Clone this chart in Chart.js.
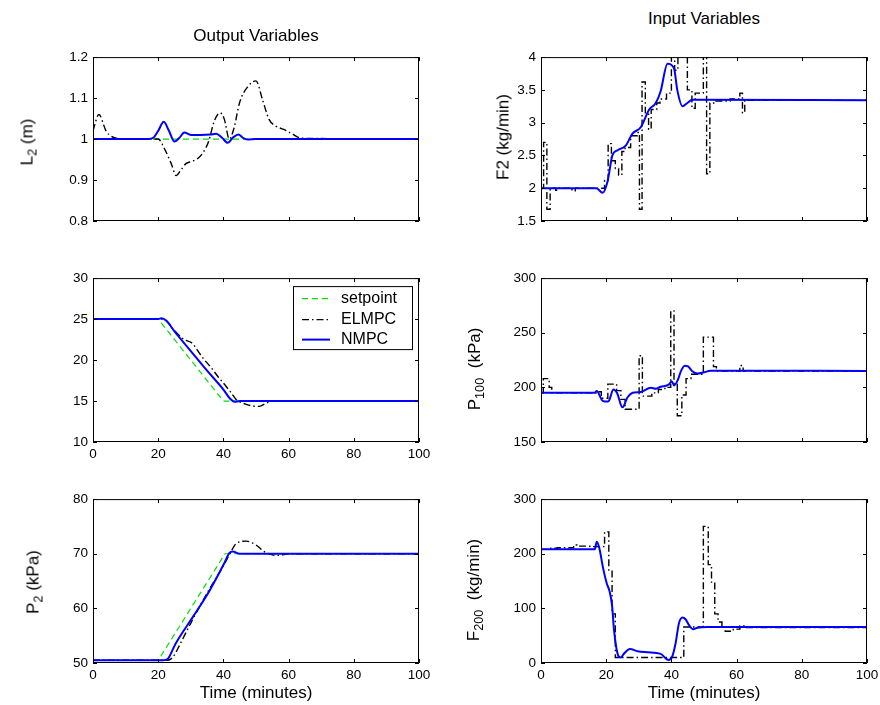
<!DOCTYPE html>
<html>
<head>
<meta charset="utf-8">
<script src="https://cdn.jsdelivr.net/npm/chart.js@4.4.1/dist/chart.umd.min.js"></script>
<style>
  html, body { margin: 0; padding: 0; background: #fff; }
  #fig { position: relative; width: 880px; height: 705px; background: #fff; overflow: hidden;
         font-family: "Liberation Sans", Arial, Helvetica, sans-serif; color: #000; }
  #fig canvas { position: absolute; }
  .lbl { position: absolute; white-space: nowrap; font-size: 17px; line-height: 1; transform: translate(-50%, -50%); }
  .rot { transform: translate(-50%, -50%) rotate(-90deg); }
  .lbl sub { font-size: 75%; position: relative; top: 0.35em; vertical-align: baseline; line-height: 0; }
</style>
</head>
<body>
<div id="fig">
  <canvas id="cL2"></canvas>
  <canvas id="cF2"></canvas>
  <canvas id="cX2"></canvas>
  <canvas id="cP100"></canvas>
  <canvas id="cP2"></canvas>
  <canvas id="cF200"></canvas>

  <div class="lbl" style="left:256px; top:35px;">Output Variables</div>
  <div class="lbl" style="left:704px; top:18px;">Input Variables</div>
  <div class="lbl" style="left:256px; top:692px;">Time (minutes)</div>
  <div class="lbl" style="left:704px; top:692px;">Time (minutes)</div>

  <div class="lbl rot" style="left:27px; top:142px;">L<sub>2</sub> (m)</div>
  <div class="lbl rot" style="left:503px; top:137px;">F2 (kg/min)</div>
  <div class="lbl rot" style="left:474px; top:369px;">P<sub>100</sub>&nbsp;&nbsp;(kPa)</div>
  <div class="lbl rot" style="left:33px; top:582px;">P<sub>2</sub> (kPa)</div>
  <div class="lbl rot" style="left:473px; top:590px;">F<sub>200</sub>&nbsp;&nbsp;(kg/min)</div>
</div>

<script>
// ---- Time axis ticks (minutes) ----
const timeTicks = [0, 20, 40, 60, 80, 100];

// ---- L2 : separator level (m) ----
const L2_sp_t    = [0, 100];
const L2_sp      = [1.0, 1.0];
const L2_nmpc_t  = [0, 17, 18.5, 20, 21.7, 23.3, 25, 26.5, 28, 30, 33, 36, 37.8, 39.5, 41.3, 43, 44.6, 46, 47.4, 50, 100];
const L2_nmpc    = [1.0, 1.0, 1.003, 1.02, 1.042, 1.02, 0.994, 1.003, 1.016, 1.01, 1.01, 1.011, 1.013, 1.004, 0.991, 1.004, 1.011, 1.003, 0.999, 1.0, 1.0];
const L2_elmpc_t = [0, 1.8, 4, 6, 10, 18, 20, 22, 24, 25.5, 27, 28.5, 30.5, 32.5, 34, 35.5, 37.2, 39, 40.3, 41.8, 43.2, 45, 47.5, 50, 52, 54, 56, 59, 61, 64, 100];
const L2_elmpc   = [1.02, 1.06, 1.02, 1.005, 1.0, 1.0, 1.0, 0.975, 0.94, 0.911, 0.925, 0.94, 0.946, 0.955, 0.97, 0.995, 1.044, 1.064, 1.048, 1.0, 1.025, 1.09, 1.128, 1.142, 1.096, 1.048, 1.032, 1.022, 1.013, 1.002, 1.0];

// ---- X2 : product composition (%) ----
const X2_sp_t    = [0, 20, 40, 100];
const X2_sp      = [25, 25, 15, 15];
const X2_nmpc_t  = [0, 20, 21, 22.5, 25, 30, 35, 40, 42, 43.5, 45, 100];
const X2_nmpc    = [25, 25, 25.1, 24.8, 23.5, 21.1, 18.7, 16.4, 15.3, 14.9, 15, 15];
const X2_elmpc_t = [0, 21, 22.5, 25, 28, 30.6, 32, 34, 36, 38.3, 40.8, 42, 43.9, 45, 47, 49, 51, 53, 55, 100];
const X2_elmpc   = [25, 25, 24.8, 23.6, 22.5, 22.0, 21.2, 20.1, 19.2, 18.0, 16.8, 16.2, 15.2, 14.9, 14.6, 14.4, 14.35, 14.7, 15, 15];

// ---- P2 : operating pressure (kPa) ----
const P2_sp_t    = [0, 20, 40.5, 100];
const P2_sp      = [50.5, 50.5, 70, 70];
const P2_nmpc_t  = [0, 21.5, 23, 24.5, 25.5, 30.6, 35.7, 40.3, 41.8, 42.9, 44.9, 100];
const P2_nmpc    = [50.5, 50.5, 50.8, 52.5, 53.7, 58.4, 63.2, 68.3, 70.1, 70.4, 70.0, 70.0];
const P2_elmpc_t = [0, 22, 23.5, 25, 26.5, 30, 35, 40, 42, 44, 47, 50, 52.5, 55, 57, 60, 100];
const P2_elmpc   = [50.5, 50.5, 50.6, 51.5, 53.2, 57.3, 62.8, 67.8, 70.0, 71.9, 72.3, 71.6, 70.4, 69.8, 69.7, 70, 70];

// ---- F2 : product flow (kg/min) ----
const F2_nmpc_t  = [0, 17, 18.9, 20.4, 21.9, 23.5, 26, 28, 30.6, 33.2, 35.2, 36.7, 38.8, 40.8, 41.8, 43.4, 44.9, 46.4, 100];
const F2_nmpc    = [2.0, 2.0, 1.93, 2.1, 2.5, 2.58, 2.65, 2.83, 2.93, 3.2, 3.3, 3.48, 3.9, 3.83, 3.5, 3.25, 3.3, 3.35, 3.34];
const F2_elmpc_t = [0, 0.8, 1.8, 2.8, 4.5, 5.5, 9.5, 10.5, 19.5, 20.6, 21.6, 22.8, 23.8, 24.8, 25.8, 27.5, 29.5, 30.2, 31, 32, 33, 33.8, 35.5, 36.5, 38.5, 40, 41, 42, 44.9, 46.3, 47.3, 49.8, 50.8, 51.8, 53, 58, 61, 61.8, 62.5, 100];
const F2_elmpc   = [2.0, 2.7, 1.68, 2.0, 1.97, 2.0, 1.96, 2.0, 2.12, 2.68, 2.42, 2.3, 2.2, 2.56, 2.62, 2.8, 2.85, 1.68, 3.62, 3.15, 2.9, 3.2, 3.3, 3.36, 3.45, 4.1, 3.8, 4.1, 3.5, 3.22, 3.45, 4.1, 2.22, 3.3, 3.33, 3.36, 3.45, 3.15, 3.34, 3.34];

// ---- P100 : steam pressure (kPa) ----
const P100_nmpc_t  = [0, 16.5, 17.1, 18.9, 20.4, 20.9, 22.2, 23.3, 25, 26.5, 28.1, 30.6, 33.7, 35.2, 36.7, 39.3, 40.1, 40.8, 42, 42.9, 44.1, 45.1, 46.4, 48, 50, 52, 100];
const P100_nmpc    = [195, 195, 196.7, 187.7, 187, 188, 198, 195, 181.7, 190.7, 195, 195.8, 199.7, 198.8, 200.6, 202.7, 205.7, 201.8, 207, 214.7, 219.8, 219.2, 214.7, 212.6, 213.8, 215.3, 215];
const P100_elmpc_t = [0, 0.7, 2.5, 3.3, 17, 18.5, 20.5, 23.2, 24.5, 25.8, 30.1, 31.1, 34, 36, 38, 39.8, 40.8, 41.8, 43.2, 44.5, 46, 49.8, 52.9, 53.8, 61, 62, 100];
const P100_elmpc   = [195, 208, 200, 195, 196, 190, 203, 197, 189, 180, 229, 192, 195, 198, 200, 270, 203, 174, 193, 208, 212, 246, 219, 215, 220, 215, 215];

// ---- F200 : cooling water flow (kg/min) ----
const F200_nmpc_t  = [0, 16.5, 17.1, 17.9, 19, 20.2, 21, 21.8, 22.4, 23.1, 23.8, 24.5, 25.3, 27.3, 29.6, 32.7, 36.7, 39.1, 40.3, 41.3, 42.3, 43.4, 44.4, 45.4, 46.7, 48, 51, 100];
const F200_nmpc    = [208, 208, 222, 210, 175, 145, 132, 105, 60, 28, 12, 10, 16, 25.7, 21.6, 19.8, 16.8, 5.4, 12.6, 36.5, 72.5, 83.2, 79.6, 69.5, 61.7, 64.7, 66, 66];
const F200_elmpc_t = [0, 3, 5, 10, 11, 15, 19.5, 20.8, 21.8, 22.8, 43.8, 49.8, 51.3, 52.3, 53.3, 54.3, 55.5, 56.5, 59, 61, 63, 100];
const F200_elmpc   = [208, 210, 211, 216, 214, 213, 240, 170, 90, 10, 66, 250, 180, 148, 90, 75, 66, 58, 62, 68, 65, 65];

// ---- layout of the six axes boxes (page pixels) ----
const AXW = 60, PADT = 10, PADR = 16, AXH = 30;
const TICK_FONT = { family: '"Liberation Sans", Arial, Helvetica, sans-serif', size: 13.5 };

const pts = (t, v) => t.map((x, i) => ({ x, y: v[i] }));

const nmpcStyle  = { label: 'NMPC', borderColor: '#0000ff', borderWidth: 2, pointRadius: 0, fill: false, cubicInterpolationMode: 'monotone' };
const elmpcStyle = { label: 'ELMPC', borderColor: '#000000', borderWidth: 1.4, borderDash: [7, 3, 1.5, 3], pointRadius: 0, fill: false };
const spStyle    = { label: 'setpoint', borderColor: '#00e000', borderWidth: 1.2, borderDash: [6, 4], pointRadius: 0, fill: false };

// MATLAB-like box with inward tick marks on all four sides
const framePlugin = {
  id: 'frame',
  afterDatasetsDraw(chart) {
    const { ctx, chartArea: a, scales } = chart;
    const L = 4;
    ctx.save();
    ctx.strokeStyle = '#000';
    ctx.lineWidth = 1;
    ctx.beginPath();
    scales.x.ticks.forEach(t => {
      const px = Math.round(scales.x.getPixelForValue(t.value)) + 0.5;
      ctx.moveTo(px, a.bottom); ctx.lineTo(px, a.bottom - L);
      ctx.moveTo(px, a.top);    ctx.lineTo(px, a.top + L);
    });
    scales.y.ticks.forEach(t => {
      const py = Math.round(scales.y.getPixelForValue(t.value)) + 0.5;
      ctx.moveTo(a.left, py);  ctx.lineTo(a.left + L, py);
      ctx.moveTo(a.right, py); ctx.lineTo(a.right - L, py);
    });
    ctx.stroke();
    ctx.strokeRect(a.left + 0.5, a.top + 0.5, a.width - 1, a.height - 1);
    ctx.restore();
  }
};

// legend drawn inside the composition axes
const legendPlugin = {
  id: 'boxLegend',
  afterDraw(chart) {
    const { ctx, chartArea: a } = chart;
    const x0 = a.left + 200, y0 = a.top + 8, w = 119, h = 63;
    ctx.save();
    ctx.fillStyle = '#fff';
    ctx.fillRect(x0, y0, w, h);
    ctx.strokeStyle = '#000';
    ctx.lineWidth = 1;
    ctx.setLineDash([]);
    ctx.strokeRect(x0 + 0.5, y0 + 0.5, w, h);
    const rows = [12, 33, 53];
    const items = chart.data.datasets.slice().reverse();
    ctx.font = '16px "Liberation Sans", Arial, Helvetica, sans-serif';
    ctx.textBaseline = 'middle';
    items.forEach((ds, i) => {
      const y = y0 + rows[i] + 0.5;
      ctx.beginPath();
      ctx.strokeStyle = ds.borderColor;
      ctx.lineWidth = ds.borderWidth;
      ctx.setLineDash(ds.borderDash || []);
      ctx.moveTo(x0 + 9, y);
      ctx.lineTo(x0 + 37, y);
      ctx.stroke();
      ctx.setLineDash([]);
      ctx.fillStyle = '#000';
      ctx.fillText(ds.label, x0 + 48, y);
    });
    ctx.restore();
  }
};

const fmt = v => String(+(+v).toFixed(3));

function panel(id, box, y, showX, datasets, extra) {
  const cv = document.getElementById(id);
  cv.width = AXW + box.w + PADR;
  cv.height = PADT + box.h + AXH;
  cv.style.left = (box.left - AXW) + 'px';
  cv.style.top = (box.top - PADT) + 'px';
  return new Chart(cv, {
    type: 'line',
    data: { datasets },
    options: {
      responsive: false,
      animation: false,
      devicePixelRatio: 1,
      layout: { padding: { top: PADT, right: PADR, left: 0, bottom: 0 } },
      plugins: { legend: { display: false }, tooltip: { enabled: false } },
      scales: {
        x: {
          type: 'linear', min: timeTicks[0], max: timeTicks[timeTicks.length - 1],
          afterBuildTicks: s => { s.ticks = timeTicks.map(v => ({ value: v })); },
          ticks: { display: showX, font: TICK_FONT, color: '#000', padding: 4, maxRotation: 0, autoSkip: false, callback: fmt },
          grid: { display: false, drawTicks: false },
          border: { display: false },
          afterFit: s => { s.height = AXH; }
        },
        y: {
          type: 'linear', min: y.ticks[0], max: y.ticks[y.ticks.length - 1],
          afterBuildTicks: s => { s.ticks = y.ticks.map(v => ({ value: v })); },
          ticks: { font: TICK_FONT, color: '#000', padding: 5, autoSkip: false, callback: fmt },
          grid: { display: false, drawTicks: false },
          border: { display: false },
          afterFit: s => { s.width = AXW; }
        }
      }
    },
    plugins: [framePlugin].concat(extra || [])
  });
}

const W = 326, H = 167;

panel('cL2', { left: 93, top: 54, w: W, h: H }, { ticks: [0.8, 0.9, 1.0, 1.1, 1.2] }, false, [
  Object.assign({ data: pts(L2_nmpc_t, L2_nmpc) }, nmpcStyle),
  Object.assign({ data: pts(L2_elmpc_t, L2_elmpc), cubicInterpolationMode: 'monotone' }, elmpcStyle),
  Object.assign({ data: pts(L2_sp_t, L2_sp) }, spStyle)
]);

panel('cX2', { left: 93, top: 275, w: W, h: H }, { ticks: [10, 15, 20, 25, 30] }, true, [
  Object.assign({ data: pts(X2_nmpc_t, X2_nmpc) }, nmpcStyle),
  Object.assign({ data: pts(X2_elmpc_t, X2_elmpc), cubicInterpolationMode: 'monotone' }, elmpcStyle),
  Object.assign({ data: pts(X2_sp_t, X2_sp) }, spStyle)
], [legendPlugin]);

panel('cP2', { left: 93, top: 496, w: W, h: H }, { ticks: [50, 60, 70, 80] }, true, [
  Object.assign({ data: pts(P2_nmpc_t, P2_nmpc) }, nmpcStyle),
  Object.assign({ data: pts(P2_elmpc_t, P2_elmpc), cubicInterpolationMode: 'monotone' }, elmpcStyle),
  Object.assign({ data: pts(P2_sp_t, P2_sp) }, spStyle)
]);

panel('cF2', { left: 541, top: 54, w: W, h: H }, { ticks: [1.5, 2, 2.5, 3, 3.5, 4] }, false, [
  Object.assign({ data: pts(F2_nmpc_t, F2_nmpc) }, nmpcStyle),
  Object.assign({ data: pts(F2_elmpc_t, F2_elmpc), stepped: true }, elmpcStyle)
]);

panel('cP100', { left: 541, top: 275, w: W, h: H }, { ticks: [150, 200, 250, 300] }, false, [
  Object.assign({ data: pts(P100_nmpc_t, P100_nmpc) }, nmpcStyle),
  Object.assign({ data: pts(P100_elmpc_t, P100_elmpc), stepped: true }, elmpcStyle)
]);

panel('cF200', { left: 541, top: 496, w: W, h: H }, { ticks: [0, 100, 200, 300] }, true, [
  Object.assign({ data: pts(F200_nmpc_t, F200_nmpc) }, nmpcStyle),
  Object.assign({ data: pts(F200_elmpc_t, F200_elmpc), stepped: true }, elmpcStyle)
]);
</script>
</body>
</html>
